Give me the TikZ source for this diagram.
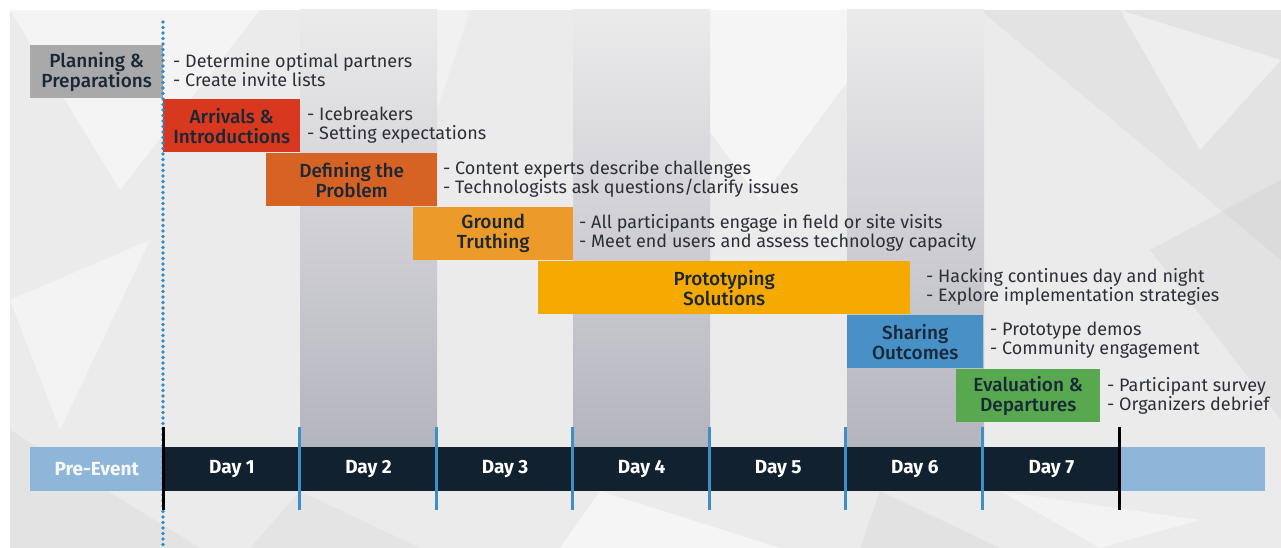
\documentclass[tikz,border=0pt]{standalone}
\usepackage{fontspec}
\setmainfont{Fira Sans}
\newfontfamily\firamed{Fira Sans Medium}
\usetikzlibrary{positioning}
\definecolor{bgbase}{HTML}{EBEBEC}
\definecolor{colgray}{HTML}{B4B4BE}
\definecolor{cPlan}{HTML}{A9A9A9}
\definecolor{cArr}{HTML}{D8381E}
\definecolor{cDef}{HTML}{D66224}
\definecolor{cGT}{HTML}{EC9A2A}
\definecolor{cProto}{HTML}{F6A900}
\definecolor{cShare}{HTML}{4791C7}
\definecolor{cEval}{HTML}{57A84F}
\definecolor{navy}{HTML}{12212F}
\definecolor{lblue}{HTML}{8EB6D8}
\definecolor{tickblue}{HTML}{3D8FC6}
\definecolor{dotblue}{HTML}{2F8ACB}
\definecolor{labtext}{HTML}{1A2736}
\definecolor{notetext}{HTML}{2B3038}
\tikzset{
  phase/.style={anchor=north west, inner sep=0pt, align=center, text=labtext,
    font=\firamed\fontsize{19}{20}\selectfont},
  note/.style={anchor=west, inner sep=0pt, align=left, text=notetext,
    font=\fontsize{18}{19.5}\selectfont},
  daylab/.style={text=white, font=\bfseries\fontsize{19}{20}\selectfont},
  daybox/.style={fill=navy, draw=none, minimum height=44pt, inner sep=0pt, anchor=north west},
  tickline/.style={line width=3pt},
}
\begin{document}
\begin{tikzpicture}[x=1pt,y=-1pt]
\useasboundingbox (0,0) rectangle (1281,548);
\fill[white] (0,0) rectangle (1281,548);
% background
\fill[bgbase] (10,10) rectangle (1281,548);
\begin{scope}
\clip (10,10) rectangle (1281,548);
\fill[white,opacity=0.45] (10,10) -- (260,10) -- (120,190) -- cycle;
\fill[white,opacity=0.35] (330,10) -- (470,10) -- (420,160) -- cycle;
\fill[white,opacity=0.5] (620,10) -- (900,10) -- (760,200) -- cycle;
\fill[gray,opacity=0.07] (980,10) -- (1281,10) -- (1281,260) -- cycle;
\fill[gray,opacity=0.08] (1150,250) -- (1281,180) -- (1281,420) -- cycle;
\fill[white,opacity=0.4] (10,300) -- (150,240) -- (60,430) -- cycle;
\fill[gray,opacity=0.07] (10,430) -- (200,548) -- (10,548) -- cycle;
\fill[white,opacity=0.5] (600,491) -- (780,548) -- (560,548) -- cycle;
\fill[gray,opacity=0.08] (880,491) -- (1000,548) -- (860,548) -- cycle;
\fill[white,opacity=0.4] (1000,491) -- (1200,520) -- (1100,548) -- cycle;
\fill[gray,opacity=0.06] (300,491) -- (420,548) -- (250,548) -- cycle;
\fill[white,opacity=0.4] (1120,10) -- (1281,60) -- (1200,150) -- cycle;
\end{scope}
% shaded day columns
\foreach \xa in {300,573,847}{
  \shade[top color=bgbase, bottom color=colgray] (\xa,10) rectangle (\xa+137,447);
}
% phases
\node[phase, fill=cPlan, minimum width=133pt, minimum height=53pt] (plan) at (30,45) {Planning \&\\Preparations};
\node[phase, fill=cArr, minimum width=137pt, minimum height=53pt] (arr) at (163,99) {Arrivals \&\\Introductions};
\node[phase, fill=cDef, minimum width=171pt, minimum height=53pt] (def) at (266,153) {Defining the\\Problem};
\node[phase, fill=cGT, minimum width=160pt, minimum height=53pt] (gt) at (413,207) {Ground\\Truthing};
\node[phase, fill=cProto, minimum width=372pt, minimum height=53pt] (proto) at (538,261) {Prototyping\\Solutions};
\node[phase, fill=cShare, minimum width=136pt, minimum height=53pt] (share) at (847,315) {Sharing\\Outcomes};
\node[phase, fill=cEval, minimum width=144pt, minimum height=53pt] (eval) at (956,369) {Evaluation \&\\Departures};
% notes
\node[note] (planN) at (173,70) {- Determine optimal partners\\- Create invite lists};
\node[note] (arrN) at (307,125) {- Icebreakers\\- Setting expectations};
\node[note] (defN) at (443,179) {- Content experts describe challenges\\- Technologists ask questions/clarify issues};
\node[note] (gtN) at (579,233) {- All participants engage in field or site visits\\- Meet end users and assess technology capacity};
\node[note] (protoN) at (926,287) {- Hacking continues day and night\\- Explore implementation strategies};
\node[note] (shareN) at (990,340) {- Prototype demos\\- Community engagement};
\node[note] (evalN) at (1107,396) {- Participant survey\\- Organizers debrief};
% timeline
\node[daybox, fill=lblue, minimum width=133pt] (pre) at (30,447) {};
\node[daylab, text=white!92!lblue] at (pre.center) {Pre-Event};
\node[daybox, fill=lblue, minimum width=146pt] (post) at (1119,447) {};
\foreach \i [evaluate=\i as \xa using 163+(\i-1)*136.57] in {1,...,7}{
  \node[daybox, minimum width=137.5pt] (d\i) at (\xa,447) {};
  \node[daylab] at (d\i.center) {Day \i};
}
% dotted line
\coordinate (dotTop) at (163,22);
\coordinate (dotBot) at (163,545);
\draw[dotblue, line width=3.6pt, line cap=round, dash pattern=on 0pt off 5.5pt] (dotTop) -- (dotBot);
% ticks
\foreach \i [evaluate=\i as \xa using 163+\i*136.57] in {1,...,6}{
  \draw[tickline, tickblue] (\xa,427) -- (\xa,510);
}
\draw[tickline, black] (163,427) -- (163,510);
\draw[tickline, black] (1119,427) -- (1119,510);
\end{tikzpicture}
\end{document}
